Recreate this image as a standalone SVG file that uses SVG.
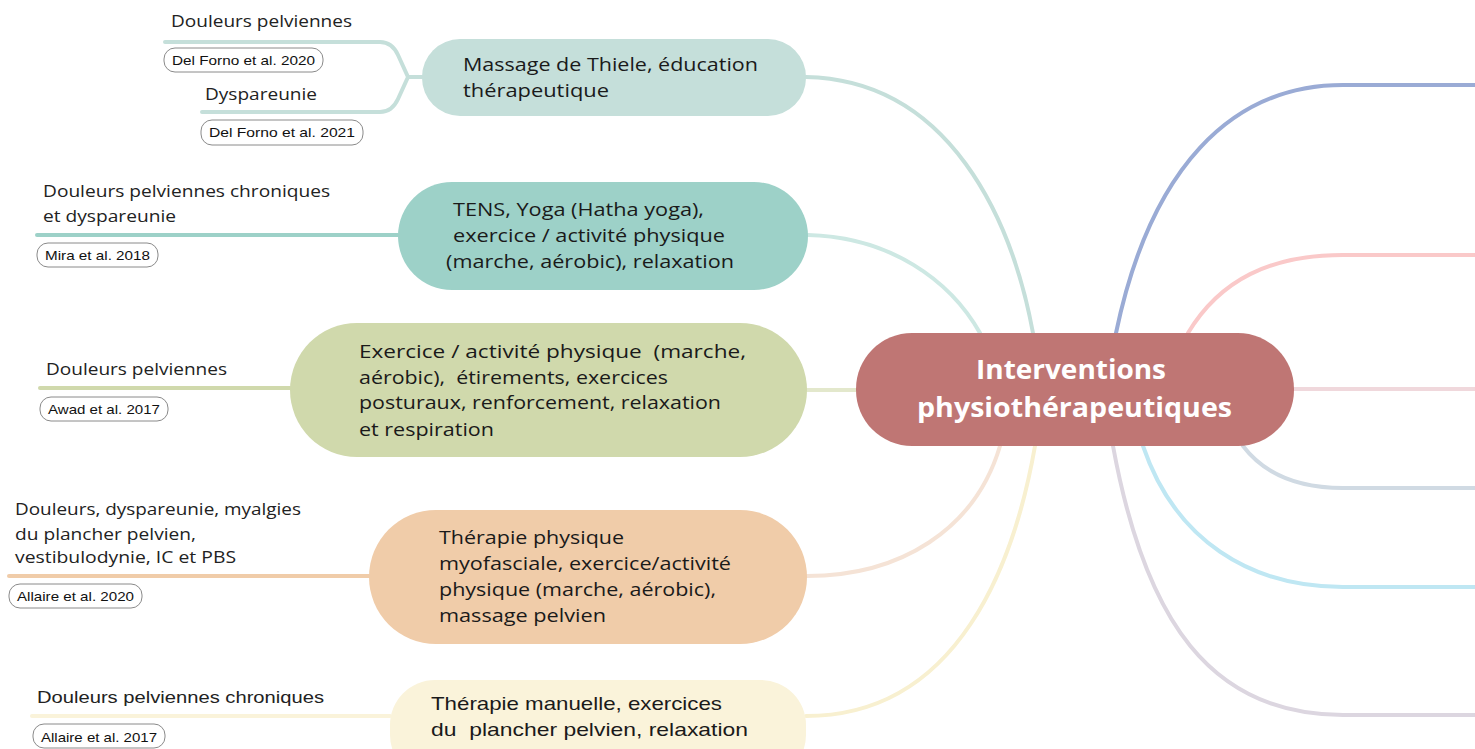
<svg xmlns="http://www.w3.org/2000/svg" width="1475" height="749" viewBox="0 0 1475 749">
<style>
text{white-space:pre}
.n{font-family:"Open Sans","Noto Sans",sans-serif;font-size:19px;fill:#1a1a1a}
.nc{font-family:"Liberation Sans",Arial,sans-serif;font-size:19px;fill:#1a1a1a}
.c{font-family:"Open Sans","Noto Sans",sans-serif;font-size:26px;font-weight:700;fill:#ffffff}
.l{font-family:"Open Sans","Noto Sans",sans-serif;font-size:17px;fill:#222}
.lc{font-family:"Liberation Sans",Arial,sans-serif;font-size:17px;fill:#222}
.ref{font-family:"Liberation Sans",Arial,sans-serif;font-size:13.5px;fill:#111}
.box{fill:#ffffff;stroke:#8a8a8a;stroke-width:1}
.cn{fill:none;stroke-width:4;stroke-linecap:round}
</style>
<rect width="1475" height="749" fill="#ffffff"/>
<g id="connectors">
  <path class="cn" stroke="#C5DFDA" d="M806,77 C950,80 1012,220 1033,333"/>
  <path class="cn" stroke="#CDE8E3" d="M808,235 C890,237 950,280 980,333"/>
  <path class="cn" stroke="#E3E8CC" d="M807,390 L856,390"/>
  <path class="cn" stroke="#F5E3D6" d="M807,576 C900,576 975,530 1000,446"/>
  <path class="cn" stroke="#F8F0D0" d="M806,716 C960,716 1015,560 1035,446"/>
  <path class="cn" stroke="#9AABD5" stroke-width="5" d="M1116,333 C1150,170 1230,85 1343,85 L1475,85"/>
  <path class="cn" stroke="#FAC9C9" d="M1188,333 C1220,280 1270,255 1343,255 L1475,255"/>
  <path class="cn" stroke="#F0D8DC" d="M1294,389 L1475,389"/>
  <path class="cn" stroke="#D0DAE3" d="M1243,446 C1265,475 1300,488 1343,488 L1475,488"/>
  <path class="cn" stroke="#BFE7F3" d="M1143,446 C1175,540 1250,587 1343,587 L1475,587"/>
  <path class="cn" stroke="#DCD6E0" d="M1113,446 C1145,620 1210,715 1343,715 L1475,715"/>
  <path class="cn" stroke="#C5DFDA" stroke-width="3" d="M422,77 L408,77 M165,42 L380,42 Q392,42 398,55 L408,77 L398,99 Q392,112 380,112 L202,112"/>
  <path class="cn" stroke="#9DD1C8" stroke-width="3" d="M37,235 L398,235"/>
  <path class="cn" stroke="#D0D9AC" stroke-width="3" d="M40,388 L290,388"/>
  <path class="cn" stroke="#F0CCA9" stroke-width="3" d="M9,576 L369,576"/>
  <path class="cn" stroke="#FAF3DA" stroke-width="3" d="M32,716 L390,716"/>
</g>
<g id="center">
  <rect x="856" y="333" width="438" height="113" rx="56" fill="#BF7674"/>
  <text class="c" x="976" y="379" textLength="190" lengthAdjust="spacingAndGlyphs">Interventions</text>
  <text class="c" x="917" y="417" textLength="315" lengthAdjust="spacingAndGlyphs">physiothérapeutiques</text>
</g>
<g id="node1">
  <rect x="422" y="39" width="384" height="77" rx="38" fill="#C5DFDA"/>
  <text class="n" x="463" y="71" textLength="295" lengthAdjust="spacingAndGlyphs">Massage de Thiele, éducation</text>
  <text class="n" x="463" y="97" textLength="146" lengthAdjust="spacingAndGlyphs">thérapeutique</text>
</g>
<g id="node2">
  <rect x="398" y="182" width="410" height="108" rx="54" fill="#9DD1C8"/>
  <text class="n" x="453" y="216" textLength="251" lengthAdjust="spacingAndGlyphs">TENS, Yoga (Hatha yoga),</text>
  <text class="n" x="453" y="242" textLength="272" lengthAdjust="spacingAndGlyphs">exercice / activité physique</text>
  <text class="n" x="446" y="268" textLength="288" lengthAdjust="spacingAndGlyphs">(marche, aérobic), relaxation</text>
</g>
<g id="node3">
  <rect x="290" y="323" width="517" height="134" rx="67" fill="#D0D9AC"/>
  <text class="n" x="359" y="358" textLength="387" lengthAdjust="spacingAndGlyphs">Exercice / activité physique  (marche,</text>
  <text class="n" x="359" y="384" textLength="309" lengthAdjust="spacingAndGlyphs">aérobic),  étirements, exercices</text>
  <text class="n" x="359" y="409" textLength="362" lengthAdjust="spacingAndGlyphs">posturaux, renforcement, relaxation</text>
  <text class="n" x="359" y="436" textLength="135" lengthAdjust="spacingAndGlyphs">et respiration</text>
</g>
<g id="node4">
  <rect x="369" y="510" width="438" height="134" rx="67" fill="#F0CCA9"/>
  <text class="n" x="439" y="544" textLength="185" lengthAdjust="spacingAndGlyphs">Thérapie physique</text>
  <text class="n" x="439" y="570" textLength="292" lengthAdjust="spacingAndGlyphs">myofasciale, exercice/activité</text>
  <text class="n" x="439" y="596" textLength="277" lengthAdjust="spacingAndGlyphs">physique (marche, aérobic),</text>
  <text class="n" x="439" y="622" textLength="167" lengthAdjust="spacingAndGlyphs">massage pelvien</text>
</g>
<g id="node5">
  <rect x="390" y="680" width="416" height="100" rx="45" fill="#FAF3DA"/>
  <text class="nc" x="431" y="710" textLength="291" lengthAdjust="spacingAndGlyphs">Thérapie manuelle, exercices</text>
  <text class="nc" x="431" y="736" textLength="317" lengthAdjust="spacingAndGlyphs">du  plancher pelvien, relaxation</text>
</g>
<g id="leaf1a">
  <text class="l" x="171" y="27" textLength="181" lengthAdjust="spacingAndGlyphs">Douleurs pelviennes</text>
  <rect class="box" x="164" y="48" width="159" height="24" rx="11"/>
  <text class="ref" x="172" y="65" textLength="143" lengthAdjust="spacingAndGlyphs">Del Forno et al. 2020</text>
</g>
<g id="leaf1b">
  <text class="l" x="205" y="100" textLength="112" lengthAdjust="spacingAndGlyphs">Dyspareunie</text>
  <rect class="box" x="201" y="120" width="162" height="25" rx="11"/>
  <text class="ref" x="209" y="137" textLength="146" lengthAdjust="spacingAndGlyphs">Del Forno et al. 2021</text>
</g>
<g id="leaf2">
  <text class="l" x="43" y="197" textLength="287" lengthAdjust="spacingAndGlyphs">Douleurs pelviennes chroniques</text>
  <text class="l" x="43" y="222" textLength="133" lengthAdjust="spacingAndGlyphs">et dyspareunie</text>
  <rect class="box" x="37" y="243" width="121" height="24" rx="11"/>
  <text class="ref" x="45" y="260" textLength="105" lengthAdjust="spacingAndGlyphs">Mira et al. 2018</text>
</g>
<g id="leaf3">
  <text class="l" x="46" y="375" textLength="181" lengthAdjust="spacingAndGlyphs">Douleurs pelviennes</text>
  <rect class="box" x="40" y="397" width="128" height="24" rx="11"/>
  <text class="ref" x="48" y="414" textLength="112" lengthAdjust="spacingAndGlyphs">Awad et al. 2017</text>
</g>
<g id="leaf4">
  <text class="l" x="15" y="515" textLength="286" lengthAdjust="spacingAndGlyphs">Douleurs, dyspareunie, myalgies</text>
  <text class="l" x="15" y="540" textLength="181" lengthAdjust="spacingAndGlyphs">du plancher pelvien,</text>
  <text class="l" x="15" y="563" textLength="221" lengthAdjust="spacingAndGlyphs">vestibulodynie, IC et PBS</text>
  <rect class="box" x="9" y="584" width="133" height="24" rx="11"/>
  <text class="ref" x="17" y="601" textLength="117" lengthAdjust="spacingAndGlyphs">Allaire et al. 2020</text>
</g>
<g id="leaf5">
  <text class="lc" x="37" y="703" textLength="287" lengthAdjust="spacingAndGlyphs">Douleurs pelviennes chroniques</text>
  <rect class="box" x="33" y="724" width="132" height="24" rx="11"/>
  <text class="ref" x="41" y="742" textLength="116" lengthAdjust="spacingAndGlyphs">Allaire et al. 2017</text>
</g>
</svg>
